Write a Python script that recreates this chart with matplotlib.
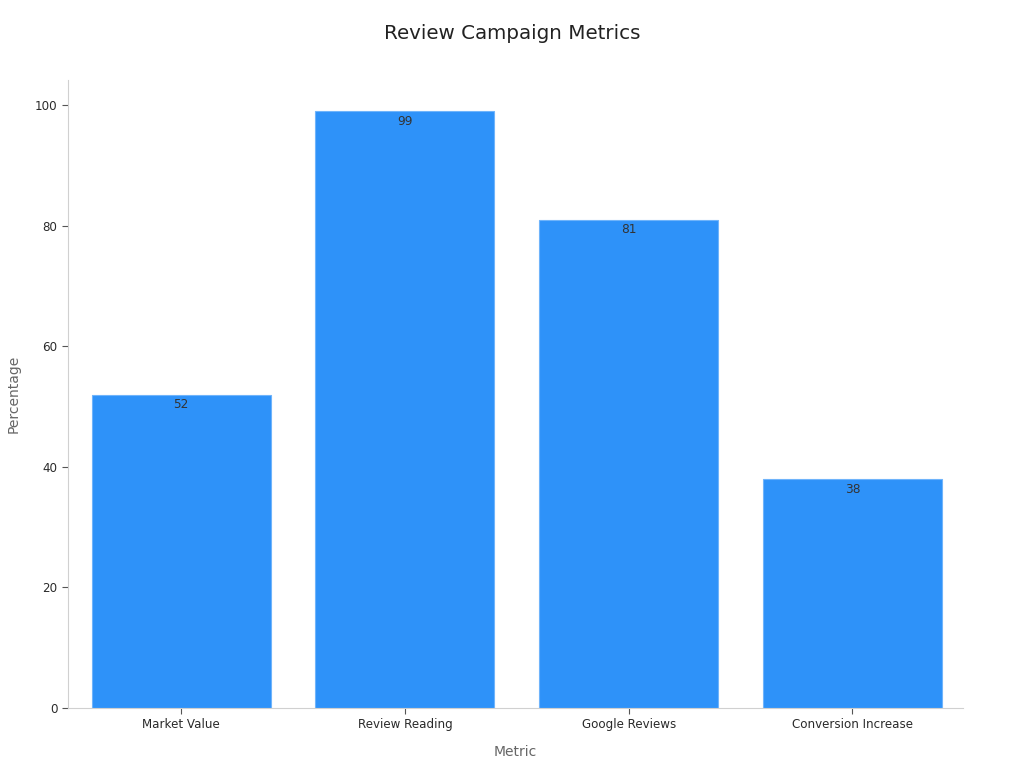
import matplotlib
matplotlib.use("Agg")
import matplotlib.pyplot as plt

# data
metrics = ["Market Value", "Review Reading", "Google Reviews", "Conversion Increase"]
percentages = [52, 99, 81, 38]

fig = plt.figure(figsize=(10.24, 7.68), dpi=100)
ax = fig.add_axes([0.0664, 0.0781, 0.874, 0.8177])

bars = ax.bar(range(len(metrics)), percentages, width=0.8,
              color="#2e92f9", edgecolor="#6fb4fb", linewidth=0.8)

for i, v in enumerate(percentages):
    ax.text(i, v - 0.6, str(v), ha="center", va="top", fontsize=8.7, color="#333333")

ax.set_xlim(-0.506, 3.494)
ax.set_ylim(0, 104.2)
ax.set_yticks([0, 20, 40, 60, 80, 100])
ax.set_xticks(range(len(metrics)))
ax.set_xticklabels(metrics)

for side in ["top", "right"]:
    ax.spines[side].set_visible(False)
for side in ["left", "bottom"]:
    ax.spines[side].set_color("#d0d0d0")
ax.tick_params(axis="both", colors="#555555", labelsize=8.6, length=4, labelcolor="#2a2a2a")

ax.set_xlabel("Metric", fontsize=10, color="#666666", labelpad=10)
ax.set_ylabel("Percentage", fontsize=10, color="#666666", labelpad=10)
fig.text(0.5, 0.957, "Review Campaign Metrics", ha="center", va="center",
         fontsize=14.3, color="#222222")

fig.savefig("out.png", dpi=100)
